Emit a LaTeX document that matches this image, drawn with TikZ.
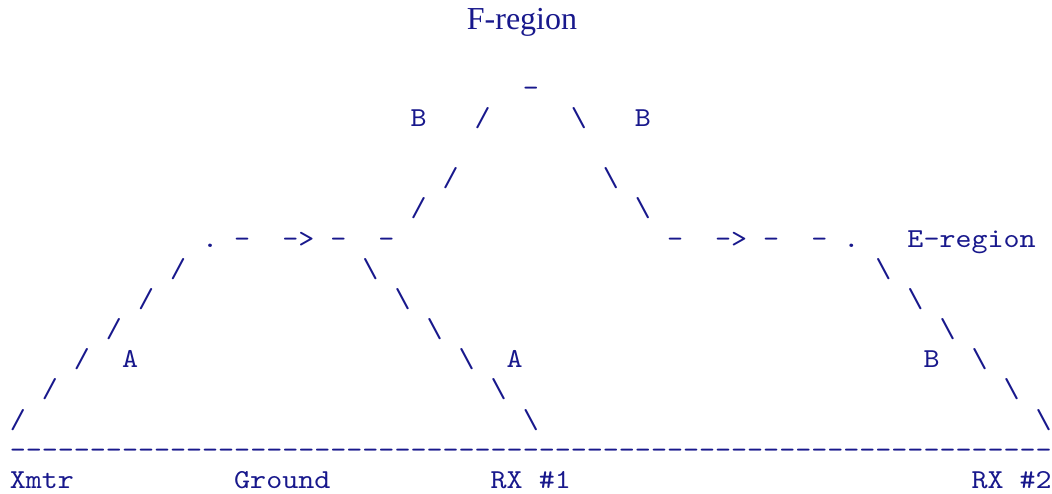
\documentclass[tikz,border=0pt]{standalone}
\usepackage{fontspec}
\setmainfont{Liberation Serif}
\newfontfamily\asciifont{lmmono10-regular.otf}[FakeStretch=1.114]
\definecolor{inknavy}{RGB}{24,24,140}
\begin{document}
\begin{tikzpicture}[x=8.015pt, y=-15.075pt,
    ch/.style={anchor=base west, inner sep=0pt, text=inknavy,
      font=\asciifont\fontsize{13.7pt}{15pt}\selectfont},
    ttl/.style={anchor=base, inner sep=0pt, text=inknavy,
      font=\fontsize{16pt}{19pt}\selectfont}]
    \useasboundingbox (-4.7pt,48.175pt) rectangle (521.3pt,-198.325pt);

    % Titre : couche F
    \node [ttl] (fregion) at (256.3pt,33.525pt) {F-region};

    % Sommet du saut (couche F)
    \node [ch] (apex) at (32,0) {-};
    \node [ch] (bleft) at (25,1) {B};
    \node [ch] (fup1) at (29,1) {/};
    \node [ch] (fdn1) at (35,1) {\textbackslash};
    \node [ch] (bright) at (39,1) {B};
    \node [ch] (fup3) at (27,3) {/};
    \node [ch] (fdn3) at (37,3) {\textbackslash};
    \node [ch] (fup4) at (25,4) {/};
    \node [ch] (fdn4) at (39,4) {\textbackslash};

    % Ligne de la couche E
    \node [ch] (edot1) at (12,5) {.};
    \node [ch] (e14) at (14,5) {-};
    \node [ch] (earr1) at (17,5) {->};
    \node [ch] (e20) at (20,5) {-};
    \node [ch] (e23) at (23,5) {-};
    \node [ch] (e41) at (41,5) {-};
    \node [ch] (earr2) at (44,5) {->};
    \node [ch] (e47) at (47,5) {-};
    \node [ch] (e50) at (50,5) {-};
    \node [ch] (edot2) at (52,5) {.};
    \node [ch] (eregion) at (56,5) {E-region};

    % Rayons descendants / montants
    \foreach \r/\c in {6/10, 7/8, 8/6, 9/4, 10/2, 11/0}
        \node [ch] (up\r) at (\c,\r) {/};
    \foreach \r/\c in {6/22, 7/24, 8/26, 9/28, 10/30, 11/32}
        \node [ch] (dn\r) at (\c,\r) {\textbackslash};
    \foreach \r/\c in {6/54, 7/56, 8/58, 9/60, 10/62, 11/64}
        \node [ch] (far\r) at (\c,\r) {\textbackslash};

    % Modes A et B
    \node [ch] (modea1) at (7,9) {A};
    \node [ch] (modea2) at (31,9) {A};
    \node [ch] (modeb) at (57,9) {B};

    % Sol
    \foreach \c in {0,...,64}
        \node [ch] (gnd\c) at (\c,12) {-};

    % Stations
    \node [ch] (xmtr) at (0,13) {Xmtr};
    \node [ch] (ground) at (14,13) {Ground};
    \node [ch] (rx1) at (30,13) {RX \#1};
    \node [ch] (rx2) at (60,13) {RX \#2};
\end{tikzpicture}
\end{document}
